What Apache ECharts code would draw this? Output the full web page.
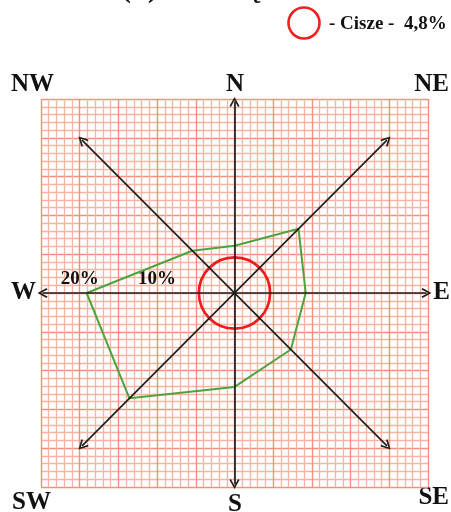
<!DOCTYPE html>
<html>
<head>
<meta charset="utf-8">
<script src="https://cdn.jsdelivr.net/npm/echarts@6/dist/echarts.min.js"></script>
<style>
    html, body { margin: 0; padding: 0; background: #fff; }
    #windRose { width: 451px; height: 512px; }
</style>
</head>
<body>
<div id="windRose"></div>
<script>
    // kierunki wiatru (od N zgodnie z ruchem wskazówek)
    var directions = ['N', 'NE', 'E', 'SE', 'S', 'SW', 'W', 'NW']
    var angles = [0, 45, 90, 135, 180, 225, 270, 315]
    // częstość wiatru w % dla każdego kierunku
    var frequency = [6.1, 11.7, 9.2, 10.3, 12.1, 19.2, 19.1, 7.7]
    // cisze
    var calmLabel = '- Cisze -  4,8%'
    var calmRing = [4.6]
    // podpisy skali
    var ringValues = [-20, -10]
    var ringLabels = ['20%', '10%']

    var serif = '"Liberation Serif", "DejaVu Serif", serif'
    var chevron = 'path://M5,0 L10,8.4 L8.6,9.4 L5,3 L1.4,9.4 L0,8.4 Z'

    // punkty wielokąta róży wiatrów
    var rosePoints = frequency.map(function (v, i) {
        var a = angles[i] * Math.PI / 180
        return [v * Math.sin(a), v * Math.cos(a)]
    })
    rosePoints.push(rosePoints[0])

    // pozycje podpisów kierunków (px)
    var labelPos = {
        N: [235, 85, 'center'], NE: [449, 85, 'right'], E: [450, 293, 'right'],
        SE: [449, 498, 'right'], S: [235, 505, 'center'], SW: [12, 503, 'left'],
        W: [11, 293, 'left'], NW: [11, 85, 'left']
    }

    var chart = echarts.init(document.getElementById('windRose'))

    var gridLines = function () {
        return {
            type: 'value',
            min: -25,
            max: 25,
            interval: 5,
            axisLine: { show: false },
            axisTick: { show: false },
            axisLabel: { show: false },
            splitLine: { show: true, lineStyle: { color: '#f6907c', width: 1.4 } },
            minorTick: { show: false, splitNumber: 5 },
            minorSplitLine: { show: true, lineStyle: { color: '#f9b3a3', width: 1.3 } }
        }
    }

    var arrowLine = function (a, b) {
        return [{ coord: a }, { coord: b }]
    }

    var graphics = directions.map(function (d) {
        var p = labelPos[d]
        return {
            type: 'text',
            x: p[0],
            y: p[1],
            style: {
                text: d,
                font: 'bold 25px ' + serif,
                fill: '#111',
                align: p[2],
                verticalAlign: 'middle'
            }
        }
    })
    graphics.push({
        type: 'circle',
        shape: { cx: 304, cy: 23, r: 15.5 },
        style: { fill: 'none', stroke: '#ee2222', lineWidth: 2.6 }
    })
    graphics.push({
        type: 'text',
        x: 329,
        y: 24,
        style: { text: calmLabel, font: 'bold 19px ' + serif, fill: '#111', verticalAlign: 'middle' }
    })
    // tytuł ucięty u góry
    graphics.push({
        type: 'text',
        x: 121,
        y: 4,
        style: { text: '(b)', font: 'bold 30px ' + serif, fill: '#111', verticalAlign: 'bottom' }
    })
    graphics.push({
        type: 'text',
        x: 213,
        y: 4,
        style: { text: 'Częstość', font: 'bold 30px ' + serif, fill: '#111', verticalAlign: 'bottom' }
    })

    chart.setOption({
        animation: false,
        grid: { left: 41, top: 99, width: 387, height: 388 },
        xAxis: gridLines(),
        yAxis: gridLines(),
        graphic: graphics,
        series: [
            {
                // osie ze strzałkami
                type: 'line',
                data: [],
                silent: true,
                markLine: {
                    silent: true,
                    symbol: [chevron, chevron],
                    symbolSize: [10, 10],
                    label: { show: false },
                    emphasis: { disabled: true },
                    lineStyle: { color: '#1e1e1e', width: 1.7, type: 'solid' },
                    data: [
                        arrowLine([0, -24.6], [0, 24.6]),
                        arrowLine([-24.8, 0], [24.8, 0]),
                        arrowLine([-19.7, 19.7], [19.7, -19.7]),
                        arrowLine([19.7, 19.7], [-19.7, -19.7])
                    ]
                }
            },
            {
                type: 'line',
                data: rosePoints,
                symbol: 'none',
                silent: true,
                lineStyle: { color: '#4ea43c', width: 2 }
            },
            {
                type: 'custom',
                silent: true,
                data: calmRing.map(function (r) { return [0, 0, r] }),
                renderItem: function (params, api) {
                    var c = api.coord([api.value(0), api.value(1)])
                    var r = api.size([api.value(2), 0])[0]
                    return {
                        type: 'circle',
                        shape: { cx: c[0], cy: c[1], r: r },
                        style: { fill: 'none', stroke: '#ee1c1c', lineWidth: 2.7 }
                    }
                }
            },
            {
                // podpisy 20% i 10% nad osią W
                type: 'custom',
                silent: true,
                data: ringValues.map(function (v) { return [v, 0] }),
                renderItem: function (params, api) {
                    var p = api.coord([api.value(0), api.value(1)])
                    return {
                        type: 'text',
                        x: p[0],
                        y: p[1] - 4,
                        style: {
                            text: ringLabels[params.dataIndex],
                            font: 'bold 19px ' + serif,
                            fill: '#111',
                            align: 'center',
                            verticalAlign: 'bottom'
                        }
                    }
                }
            }
        ]
    })
</script>
</body>
</html>
